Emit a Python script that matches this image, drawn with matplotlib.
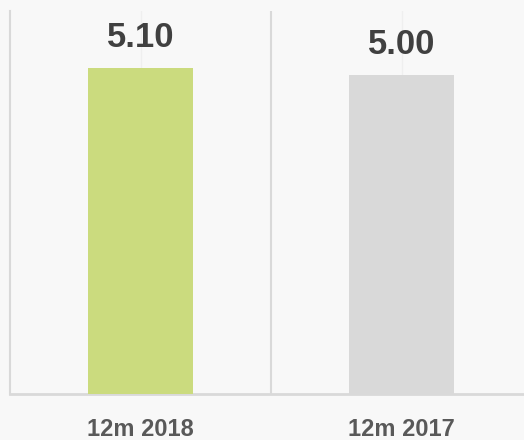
import numpy as np
import matplotlib.pyplot as plt
from matplotlib.ticker import FixedLocator

# Dữ liệu
categories = ['12m 2018', '12m 2017']
values = [5.10, 5.00]
bar_colors = ['#cbdb7e', '#d9d9d9']

plt.rcParams['font.family'] = ['Liberation Sans Narrow', 'Liberation Sans', 'DejaVu Sans']

fig = plt.figure(figsize=(5.24, 4.40), dpi=100, facecolor='#f8f8f8')
ax = fig.add_axes([10 / 524, 1 - 394 / 440, 522 / 524, 383 / 440])
ax.set_facecolor('#f8f8f8')

x = np.arange(len(categories))
bars = ax.bar(x, values, width=0.4, color=bar_colors, zorder=3)

for b, v in zip(bars, values):
    ax.annotate(f'{v:.2f}', (b.get_x() + b.get_width() / 2, v),
                xytext=(0, 14), textcoords='offset pixels',
                ha='center', va='bottom', fontsize=25, fontweight='bold',
                color='#404040')

ax.set_xlim(-0.5, len(categories) - 0.5)
ax.set_ylim(0, 6)
ax.set_yticks([])
ax.set_xticks(x)
ax.set_xticklabels(categories, fontsize=17, fontweight='bold', color='#595959')
ax.tick_params(axis='x', length=0, pad=17)

# lưới: mờ ở giữa cột, đậm hơn ở ranh giới giữa các nhóm
ax.xaxis.set_minor_locator(FixedLocator(x[:-1] + 0.5))
ax.grid(axis='x', which='major', color='#efefef', linewidth=1, zorder=0)
ax.grid(axis='x', which='minor', color='#d9d9d9', linewidth=1.5, zorder=0)
ax.tick_params(axis='x', which='minor', length=0)

for s in ['top', 'right']:
    ax.spines[s].set_visible(False)
ax.spines['left'].set_color('#d9d9d9')
ax.spines['left'].set_linewidth(1.5)
ax.spines['bottom'].set_color('#d9d9d9')
ax.spines['bottom'].set_linewidth(2)

fig.savefig('out.png', dpi=100, facecolor=fig.get_facecolor())
